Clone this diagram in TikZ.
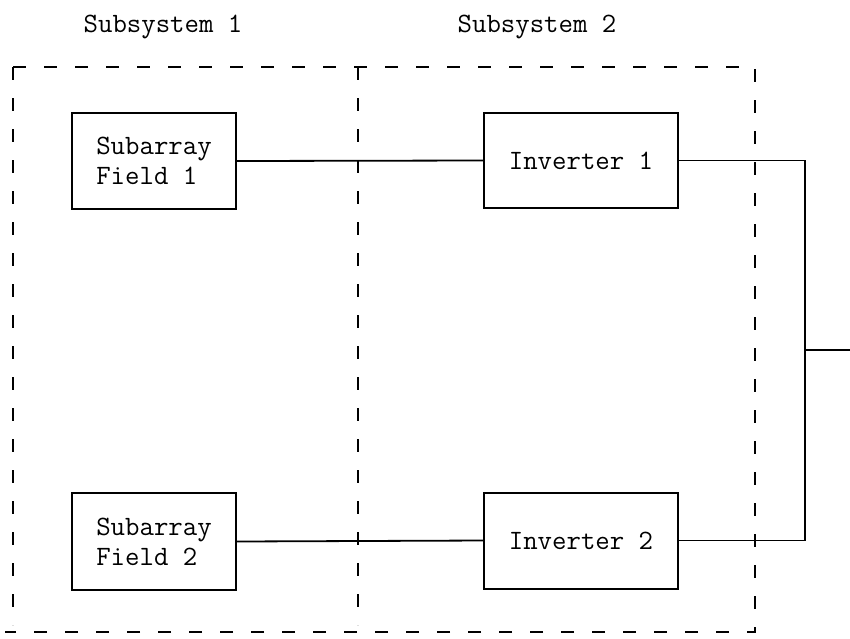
\documentclass[tikz,border=0pt]{standalone}
\usepackage{fontspec}
\begin{document}
\begin{tikzpicture}[x=1pt,y=-1pt,
  blk/.style={draw,line width=2pt,inner sep=0pt,align=left,font=\ttfamily\fontsize{28}{30}\selectfont},
  wire/.style={line width=1.8pt},
  bound/.style={line width=1.8pt,dash pattern=on 13pt off 18pt},
  lbl/.style={font=\ttfamily\fontsize{28}{30}\selectfont}]
\useasboundingbox (0,0) rectangle (850,638);
\node[lbl] (s1) at (163,27) {Subsystem 1};
\node[lbl] (s2) at (537,27) {Subsystem 2};
\coordinate (tl) at (13,67);
\coordinate (tr) at (755,67);
\coordinate (br) at (755,632);
\coordinate (bl) at (5,632);
\coordinate (lb) at (13,625);
\coordinate (mt) at (358,67);
\coordinate (mb) at (358,625);
\draw[bound] (tl) -- (tr) -- (br) -- (bl);
\draw[bound] (tl) -- (lb);
\draw[bound] (mt) -- (mb);
\node[blk,minimum width=164pt,minimum height=96pt] (sf1) at (154,161) {Subarray\\Field 1};
\node[blk,minimum width=194pt,minimum height=95pt] (inv1) at (581,160.5) {Inverter 1};
\node[blk,minimum width=164pt,minimum height=97pt] (sf2) at (154,541.5) {Subarray\\Field 2};
\node[blk,minimum width=194pt,minimum height=96pt] (inv2) at (581,540.5) {Inverter 2};
\coordinate (j) at (805,350);
\coordinate (out) at (850,350);
\draw[wire] (sf1.east) -- (inv1.west);
\draw[wire] (sf2.east) -- (inv2.west);
\draw[wire] (inv1.east) -| (j) |- (inv2.east);
\draw[line width=2.8pt] (j) -- (out);
\end{tikzpicture}
\end{document}
